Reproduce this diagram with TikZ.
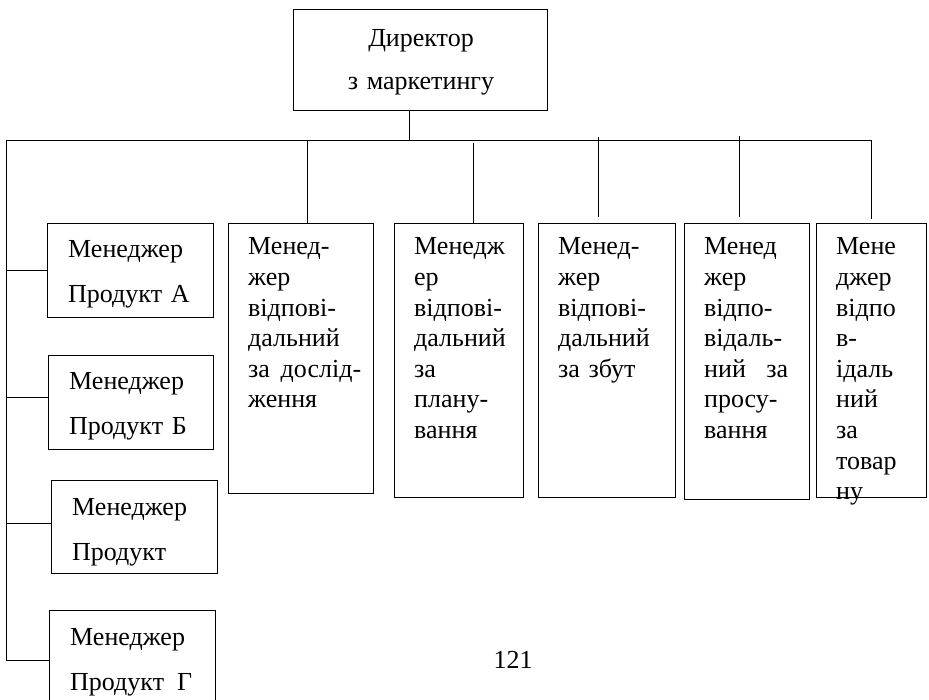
\documentclass[tikz,border=0pt]{standalone}
\usepackage{fontspec}
\setmainfont{Liberation Serif}
\usetikzlibrary{positioning}
\newcommand{\jline}[3]{\leavevmode\hbox to #1{#2\hfill #3}}

\begin{document}
\begin{tikzpicture}[x=1pt,y=-1pt,
  box/.style={draw,line width=1.3pt,anchor=north west,inner sep=0pt},
  ln/.style={line width=.8pt},
  txt/.style={anchor=base west,inner sep=0pt,text width=#1,align=left,xshift=20pt,yshift=-32pt,
    font=\fontsize{26}{30.6}\selectfont},
  mtxt/.style={anchor=base west,inner sep=0pt,text width=140pt,align=left,xshift=21pt,yshift=-35pt,
    font=\fontsize{26}{45}\selectfont}]
  \clip (0,0) rectangle (929,700);
  \node[box,minimum width=254,minimum height=101] (dir) at (293,9) {};
  \node[anchor=base,inner sep=0pt,text width=250pt,align=center,font=\fontsize{26}{43}\selectfont] (dirt) at (421,47) {Директор\\з маркетингу};
  \node[box,minimum width=166,minimum height=94] (pa) at (47,223) {};
  \node[box,minimum width=165,minimum height=94] (pb) at (48,355) {};
  \node[box,minimum width=166,minimum height=93] (pv) at (51,480) {};
  \node[box,minimum width=166,minimum height=100] (pg) at (49,610) {};
  \node[mtxt] (pat) at (pa.north west) {Менеджер\\Продукт А};
  \node[mtxt] (pbt) at (pb.north west) {Менеджер\\Продукт Б};
  \node[mtxt] (pvt) at (pv.north west) {Менеджер\\Продукт};
  \node[mtxt] (pgt) at (pg.north west) {Менеджер\\Продукт\enspace Г};
  \node[box,minimum width=145,minimum height=270] (b2) at (228,223) {};
  \node[box,minimum width=129,minimum height=274] (b3) at (394,223) {};
  \node[box,minimum width=137,minimum height=274] (b4) at (538,223) {};
  \node[box,minimum width=125,minimum height=276] (b5) at (684,223) {};
  \node[box,minimum width=110,minimum height=274] (b6) at (816,223) {};
  \node[txt=120pt] (b2t) at (b2.north west) {Менед-\\жер\\відпові-\\дальний\\\jline{113pt}{за}{дослід-}\\ження};
  \node[txt=105pt] (b3t) at (b3.north west) {Менедж\\ер\\відпові-\\дальний\\за\\плану-\\вання};
  \node[txt=115pt] (b4t) at (b4.north west) {Менед-\\жер\\відпові-\\дальний\\за збут};
  \node[txt=100pt] (b5t) at (b5.north west) {Менед\\жер\\відпо-\\відаль-\\\jline{84pt}{ний}{за}\\просу-\\вання};
  \node[txt=85pt] (b6t) at (b6.north west) {Мене\\джер\\відпо\\в-\\ідаль\\ний\\за\\товар\\ну};
  \node[anchor=base,inner sep=0pt,font=\fontsize{26}{30}\selectfont] (pnum) at (513,668) {121};
  \coordinate (busl) at (6,140);
  \coordinate (busr) at (871,140);
  \draw[ln] (busl) -- (busr);
  \draw[ln] ([xshift=-11pt]dir.south) -- ([xshift=-11pt]dir.south |- busl);
  \draw[ln] (busl) |- (pg.west);
  \draw[ln] (pa.west) -- (pa.west -| busl);
  \draw[ln] ([yshift=5pt]pb.west) -- ([yshift=5pt]pb.west -| busl);
  \draw[ln] ([yshift=4pt]pv.west) -- ([yshift=4pt]pv.west -| busl);
  \draw[ln] ([xshift=6.5pt]b2.north) -- ([xshift=6.5pt]b2.north |- busl);
  \draw[ln,shorten >=3pt] ([xshift=14.5pt]b3.north) -- ([xshift=14.5pt]b3.north |- busl);
  \draw[ln,shorten <=6pt,shorten >=-3pt] ([xshift=-8.5pt]b4.north) -- ([xshift=-8.5pt]b4.north |- busl);
  \draw[ln,shorten <=6pt,shorten >=-4pt] ([xshift=-7.5pt]b5.north) -- ([xshift=-7.5pt]b5.north |- busl);
  \draw[ln,shorten <=4pt] (b6.north) -- (b6.north |- busl);
\end{tikzpicture}
\end{document}
